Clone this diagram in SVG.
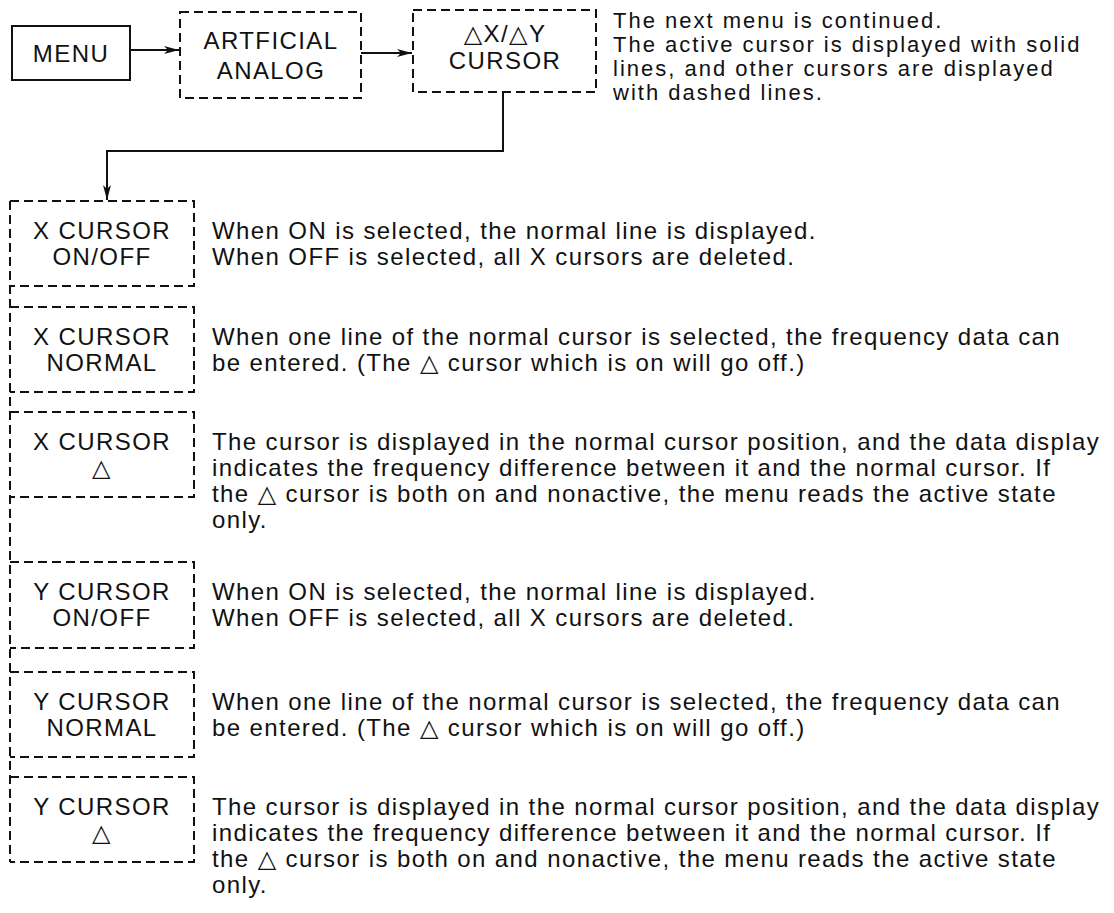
<svg xmlns="http://www.w3.org/2000/svg" width="1114" height="913" viewBox="0 0 1114 913">
<style>
.t{font-family:"Liberation Sans","DejaVu Sans",Arial,sans-serif;font-size:24px;letter-spacing:1.4px;fill:#111}
.n{font-size:22px;letter-spacing:2px}
.c{text-anchor:middle}
.d{fill:none;stroke:#111;stroke-width:2;stroke-dasharray:9 5}
.s{fill:none;stroke:#111;stroke-width:2}
</style>
<defs>
<marker id="ah" markerUnits="userSpaceOnUse" markerWidth="16" markerHeight="10" refX="15" refY="5" orient="auto">
<path d="M0,1 L15,5 L0,9 L4,5 Z" fill="#111"/>
</marker>
</defs>
<rect width="1114" height="913" fill="#fff"/>
<g id="connectors">
<path class="s" d="M130,50 H179" marker-end="url(#ah)"/>
<path class="s" d="M361,53 H412" marker-end="url(#ah)"/>
<path class="s" d="M503,92 V151 H107 V200" marker-end="url(#ah)"/>
<path class="d" d="M10,201 V862"/>
</g>
<g id="menu">
<rect class="s" x="12" y="26" width="118" height="54"/>
<text class="t c" x="71" y="62">MENU</text>
</g>
<g id="artificial-analog">
<rect class="d" x="180" y="12" width="181" height="86"/>
<text class="t c" x="271" y="49">ARTFICIAL</text>
<text class="t c" x="271" y="79">ANALOG</text>
</g>
<g id="dxdy-cursor">
<rect class="d" x="413" y="10" width="183" height="82"/>
<text class="t c" x="505" y="42">△X/△Y</text>
<text class="t c" x="505" y="69">CURSOR</text>
</g>
<g id="note-top">
<text class="t n" x="613" y="28">The next menu is continued.</text>
<text class="t n" x="613" y="52">The active cursor is displayed with solid</text>
<text class="t n" x="613" y="76">lines, and other cursors are displayed</text>
<text class="t n" x="613" y="100">with dashed lines.</text>
</g>
<g id="x-onoff">
<path class="d" d="M10,201 H194 V286 H10"/>
<text class="t c" x="102" y="239">X CURSOR</text>
<text class="t c" x="102" y="265">ON/OFF</text>
<text class="t" x="212" y="239">When ON is selected, the normal line is displayed.</text>
<text class="t" x="212" y="265">When OFF is selected, all X cursors are deleted.</text>
</g>
<g id="x-normal">
<path class="d" d="M10,307 H194 V392 H10"/>
<text class="t c" x="102" y="345">X CURSOR</text>
<text class="t c" x="102" y="371">NORMAL</text>
<text class="t" x="212" y="345">When one line of the normal cursor is selected, the frequency data can</text>
<text class="t" x="212" y="371">be entered. (The △ cursor which is on will go off.)</text>
</g>
<g id="x-delta">
<path class="d" d="M10,412 H194 V497 H10"/>
<text class="t c" x="102" y="450">X CURSOR</text>
<text class="t c" x="102" y="476">△</text>
<text class="t" x="212" y="450">The cursor is displayed in the normal cursor position, and the data display</text>
<text class="t" x="212" y="476">indicates the frequency difference between it and the normal cursor.  If</text>
<text class="t" x="212" y="502">the △ cursor is both on and nonactive, the menu reads the active state</text>
<text class="t" x="212" y="528">only.</text>
</g>
<g id="y-onoff">
<path class="d" d="M10,562 H194 V648 H10"/>
<text class="t c" x="102" y="600">Y CURSOR</text>
<text class="t c" x="102" y="626">ON/OFF</text>
<text class="t" x="212" y="600">When ON is selected, the normal line is displayed.</text>
<text class="t" x="212" y="626">When OFF is selected, all X cursors are deleted.</text>
</g>
<g id="y-normal">
<path class="d" d="M10,672 H194 V757 H10"/>
<text class="t c" x="102" y="710">Y CURSOR</text>
<text class="t c" x="102" y="736">NORMAL</text>
<text class="t" x="212" y="710">When one line of the normal cursor is selected, the frequency data can</text>
<text class="t" x="212" y="736">be entered. (The △ cursor which is on will go off.)</text>
</g>
<g id="y-delta">
<path class="d" d="M10,777 H194 V862 H10"/>
<text class="t c" x="102" y="815">Y CURSOR</text>
<text class="t c" x="102" y="841">△</text>
<text class="t" x="212" y="815">The cursor is displayed in the normal cursor position, and the data display</text>
<text class="t" x="212" y="841">indicates the frequency difference between it and the normal cursor.  If</text>
<text class="t" x="212" y="867">the △ cursor is both on and nonactive, the menu reads the active state</text>
<text class="t" x="212" y="893">only.</text>
</g>
</svg>
